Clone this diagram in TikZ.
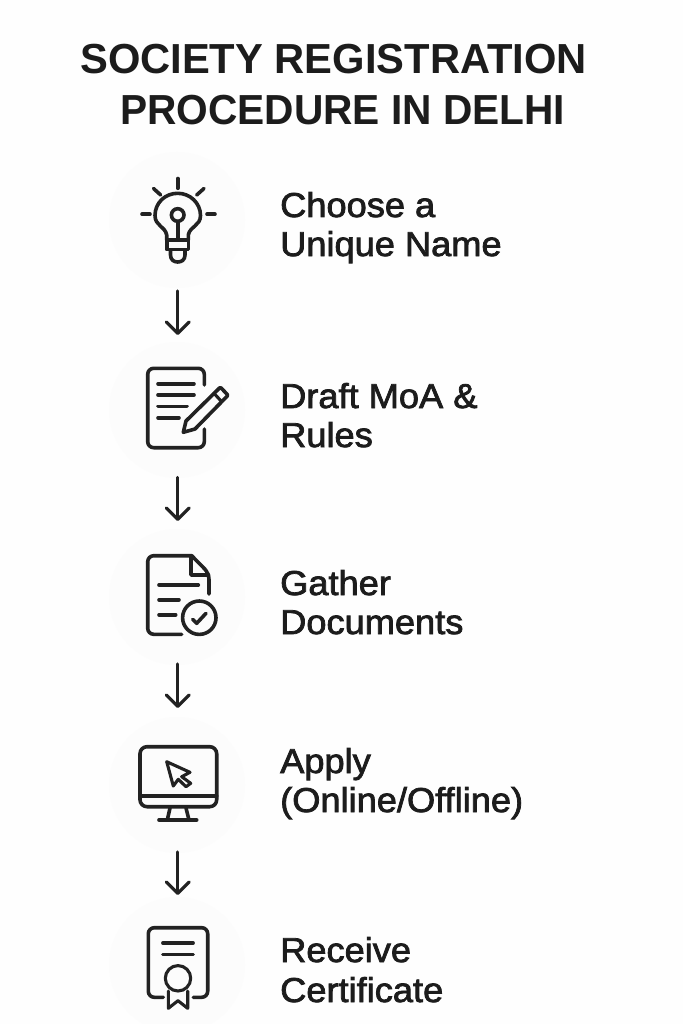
\documentclass[tikz,border=0pt]{standalone}
\usepackage{fontspec}
\setmainfont{Liberation Sans}
\newfontfamily\labelfont[FakeBold=2.2,FakeStretch=1.05]{Liberation Sans}
\newfontfamily\titlefonta[FakeStretch=0.993]{Liberation Sans Bold}
\newfontfamily\titlefontb[FakeStretch=0.968]{Liberation Sans Bold}
\usetikzlibrary{arrows.meta}
\definecolor{ink}{HTML}{222222}
\definecolor{textink}{HTML}{1C1C1C}
\definecolor{paper}{HTML}{FEFEFE}
\definecolor{halo}{HTML}{FCFCFC}
\tikzset{
  x=1pt,y=-1pt,
  icon/.style={draw=ink,line width=3.6pt,line cap=round,line join=round},
  thin icon/.style={icon,line width=3.1pt},
  flow/.style={draw=ink,line width=3.2pt,line cap=round,-{Straight Barb[length=11.5pt,width=23pt,line width=3.2pt,round]}},
  halo disc/.style={circle,fill=halo,minimum size=136pt,inner sep=0pt},
  titleline/.style={anchor=base west,inner sep=0pt,text=textink},
  steplabel/.style={anchor=base west,inner sep=0pt,font=\fontsize{34.5}{34.5}\labelfont,text=textink},
}
\begin{document}
\begin{tikzpicture}
\useasboundingbox (0,0) rectangle (683,1024);
\fill[paper] (0,0) rectangle (683,1024);
% halos
\node[halo disc] (h1) at (177,220) {};
\node[halo disc] (h2) at (177,410) {};
\node[halo disc] (h3) at (177,597) {};
\node[halo disc] (h4) at (177,785) {};
\node[halo disc] (h5) at (177,965) {};
% title
\node[titleline,font=\fontsize{42}{42}\titlefonta] (t1) at (80,74) {SOCIETY REGISTRATION};
\node[titleline,font=\fontsize{42}{42}\titlefontb] (t2) at (120,124.5) {PROCEDURE IN DELHI};
% labels
\node[steplabel] (l1a) at (280,217) {Choose a};
\node[steplabel] (l1b) at (280,256) {Unique Name};
\node[steplabel] (l2a) at (280,408) {Draft MoA \&};
\node[steplabel] (l2b) at (280,447) {Rules};
\node[steplabel] (l3a) at (280,595) {Gather};
\node[steplabel] (l3b) at (280,634) {Documents};
\node[steplabel] (l4a) at (280,773) {Apply};
\node[steplabel] (l4b) at (280,812) {(Online/Offline)};
\node[steplabel] (l5a) at (280,962) {Receive};
\node[steplabel] (l5b) at (280,1002) {Certificate};
% bulb
\path[icon] (177.7,178.5)--(177.7,188.3);
\path[icon] (142,214.3)--(150,214.3);
\path[icon] (207,214.3)--(215,214.3);
\path[icon] (153.5,188.5)--(160.7,195);
\path[icon] (204,188.5)--(196.7,195);
\path[icon] (166.7,240) -- (166.7,235) .. controls (165,226) and (155,226) .. (155,215.5)
  .. controls (155,203) and (165,193.3) .. (177.7,193.3)
  .. controls (190,193.3) and (200.5,203) .. (200.5,215.5)
  .. controls (200.5,226) and (190,226) .. (188.3,235) -- (188.3,240);
\path[icon] (177.7,215) circle (6.3);
\path[icon] (177.7,221.5)--(177.7,240);
\path[icon] (166.7,240)--(188.3,240)--(188.3,249.5)--(166.7,249.5)--cycle;
\path[icon] (170.5,250)--(170.5,255) .. controls (170.5,260) and (174,262) .. (177.7,262) .. controls (181.5,262) and (185,260) .. (185,255)--(185,250);
% draft doc
\path[icon,rounded corners=6pt] (204.3,385) -- (204.3,368.3) -- (147.7,368.3) -- (147.7,447.7) -- (204.3,447.7) -- (204.3,429);
\path[icon] (158,383.7)--(194,383.7);
\path[icon] (158,395)--(194,395);
\path[icon] (158,406.3)--(187,406.3);
\path[icon] (158,417.7)--(179,417.7);
\path[icon] (183.3,432.3)--(186,421)--(219.5,388)--(221,387.8)--(227.3,394.5)--(227.3,396)--(195,429)--cycle;
\path[thin icon] (214,393.3)--(221.7,401.7);
% documents
\path[icon,rounded corners=6pt] (209,594)--(209,573.3)[sharp corners]--(191.7,555.7)[rounded corners=6pt]--(147.7,555.7)--(147.7,634.3)--(181.7,634.3);
\path[icon] (191,556.5)--(191,575)--(208.5,575);
\path[icon] (159,585)--(198.3,585);
\path[icon] (159,599.7)--(179,599.7);
\path[icon] (159,614.7)--(175.7,614.7);
\path[icon] (199.3,617.7) circle (16.7);
\path[icon] (192.7,619.3)--(196.7,623.3)--(206,613.3);
% monitor
\path[icon,rounded corners=7pt] (140,746.7) rectangle (216.7,806.7);
\path[icon] (140,795.7)--(216.7,795.7);
\path[icon] (170,808)--(167.3,820);
\path[icon] (186,808)--(189,820);
\path[icon] (159,820)--(196.7,820);
\path[thin icon] (166.7,761.7)--(190,772.3)--(181.7,776.7)--(190.7,783.3)--(186,786.7)--(178.3,779.3)--(173.3,786)--cycle;
% certificate
\path[icon,rounded corners=6pt] (163.3,997.3)--(148.3,997.3)--(148.3,927.7)--(207.7,927.7)--(207.7,997.3)--(193.3,997.3);
\path[thin icon] (162.7,943)--(193.3,943);
\path[thin icon] (162.7,954.3)--(193.3,954.3);
\path[thin icon] (178,978.3) circle (12.7);
\path[thin icon] (168.3,991)--(168.3,1008.3)--(178,1000.7)--(187.7,1008.3)--(187.7,991);
% arrows
\coordinate (a1s) at (177.7,291); \coordinate (a1e) at (177.7,335);
\coordinate (a2s) at (177.7,477.5); \coordinate (a2e) at (177.7,521);
\coordinate (a3s) at (177.7,664); \coordinate (a3e) at (177.7,708);
\coordinate (a4s) at (177.7,852); \coordinate (a4e) at (177.7,895);
\draw[flow] (a1s)--(a1e);
\draw[flow] (a2s)--(a2e);
\draw[flow] (a3s)--(a3e);
\draw[flow] (a4s)--(a4e);
\end{tikzpicture}
\end{document}
